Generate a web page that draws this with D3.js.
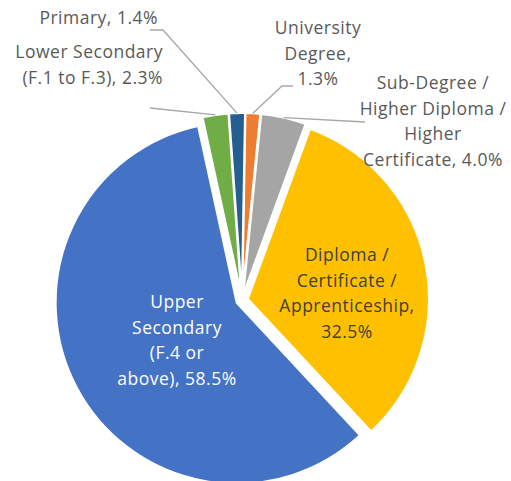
<!DOCTYPE html>
<html>
<head>
<meta charset="utf-8">
<script src="https://cdn.jsdelivr.net/npm/d3@7"></script>
<style>
  body { margin: 0; background: #fff; }
  text { font-family: "Open Sans", "Noto Sans", sans-serif; }
</style>
</head>
<body>
<div id="chart"></div>
<script>
// slices in clockwise order starting at 12 o'clock
var categories = ["University Degree", "Sub-Degree / Higher Diploma / Higher Certificate",
  "Diploma / Certificate / Apprenticeship", "Upper Secondary (F.4 or above)",
  "Lower Secondary (F.1 to F.3)", "Primary"];
var shares = [1.3, 4.0, 32.5, 58.5, 2.3, 1.4];
var labelLines = [
  ["University", "Degree,", "1.3%"],
  ["Sub-Degree /", "Higher Diploma /", "Higher", "Certificate, 4.0%"],
  ["Diploma /", "Certificate /", "Apprenticeship,", "32.5%"],
  ["Upper", "Secondary", "(F.4 or", "above), 58.5%"],
  ["Lower Secondary", "(F.1 to F.3), 2.3%"],
  ["Primary, 1.4%"]
];
var colors = ["#ED7D31", "#A5A5A5", "#FFC000", "#4472C4", "#70AD47", "#255E91"];

var width = 511, height = 481;
var cx = 242, cy = 300, radius = 181, explode = 6, lineH = 25.5;
var firstAngle = 1 * Math.PI / 180;

// label placement: centre x / first line y, anchor, and leader points
var labelLayout = [
  {x: 318, y: 28, anchor: "middle", fill: "#595959", leader: [[293, 86], [282, 86]]},
  {x: 433, y: 83, anchor: "middle", fill: "#595959", leader: [[365, 122]]},
  {x: 347, y: 255, anchor: "middle", fill: "#404040"},
  {x: 177, y: 302, anchor: "middle", fill: "#ffffff"},
  {x: 163, y: 52, anchor: "end", fill: "#595959", leader: [[150, 108]]},
  {x: 158, y: 18, anchor: "end", fill: "#595959", leader: [[150, 30], [163, 30]]}
];

var svg = d3.select("#chart").append("svg")
  .attr("width", width)
  .attr("height", height);

var pie = d3.pie().sort(null).value(function(d) { return d; })
  .startAngle(firstAngle).endAngle(firstAngle + 2 * Math.PI);
var arcs = pie(shares);

var arc = d3.arc().innerRadius(0).outerRadius(radius);
var edge = d3.arc().innerRadius(radius).outerRadius(radius);

function offset(d) {
  var a = (d.startAngle + d.endAngle) / 2;
  return [Math.sin(a) * explode, -Math.cos(a) * explode];
}

var g = svg.append("g").attr("transform", "translate(" + cx + "," + cy + ")");

g.selectAll("path.slice")
  .data(arcs)
  .enter().append("path")
  .attr("class", "slice")
  .attr("d", arc)
  .attr("transform", function(d) { var o = offset(d); return "translate(" + o[0] + "," + o[1] + ")"; })
  .attr("fill", function(d, i) { return colors[i]; })
  .attr("stroke", "#fff")
  .attr("stroke-width", 2)
  .attr("stroke-linejoin", "round");

// leader lines
arcs.forEach(function(d, i) {
  var l = labelLayout[i];
  if (!l.leader) return;
  var o = offset(d);
  var p = edge.centroid(d);
  var pts = l.leader.slice();
  pts.push([cx + p[0] + o[0], cy + p[1] + o[1]]);
  svg.append("path")
    .attr("d", d3.line()(pts))
    .attr("fill", "none")
    .attr("stroke", "#A6A6A6")
    .attr("stroke-width", 1.3);
});

// labels
labelLines.forEach(function(lines, i) {
  var l = labelLayout[i];
  var t = svg.append("text")
    .attr("text-anchor", l.anchor)
    .attr("fill", l.fill)
    .attr("font-size", "17.5px")
    .attr("letter-spacing", "0.5px");
  lines.forEach(function(s, j) {
    t.append("tspan")
      .attr("x", l.x)
      .attr("y", l.y + j * lineH)
      .attr("dy", "0.35em")
      .text(s);
  });
});
</script>
</body>
</html>
